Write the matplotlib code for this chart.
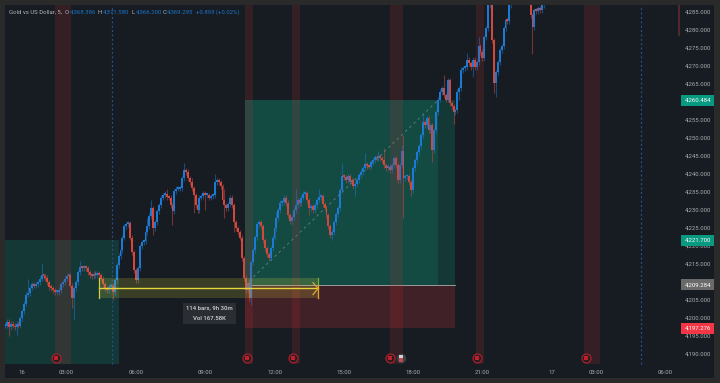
import matplotlib
matplotlib.use('Agg')
import matplotlib.pyplot as plt
from matplotlib.patches import Rectangle

plt.rcParams['font.family'] = ['Roboto', 'DejaVu Sans']

# closes, one per 5 min bar
closes = [
    4198, 4199, 4197.5, 4198.5, 4198, 4197.5, 4198.5, 4198, 4200, 4202,
    4204, 4206.5, 4207, 4208.5, 4209.5, 4209, 4209.5, 4210, 4211, 4212,
    4211.7, 4211.2, 4210, 4208.7, 4208.4, 4207.8, 4207.3, 4207.3, 4207.8, 4209.5,
    4210, 4211, 4211.7, 4212, 4209, 4205.6, 4208.4, 4210, 4212.8, 4214.2,
    4213.9, 4214.2, 4213.9, 4212.8, 4212, 4211.7, 4212.3, 4212, 4212.5, 4212,
    4211, 4209.5, 4208.4, 4207.8, 4208.7, 4209, 4207.3, 4210.6, 4214.7, 4217.3,
    4218.9, 4222.3, 4225.6, 4226.1, 4226.4, 4222.3, 4218.4, 4213.4, 4210.6, 4213.9,
    4220, 4221.1, 4221.4, 4223.9, 4225.6, 4228.4, 4230.6, 4225, 4226.7, 4229.7,
    4231.4, 4233.4, 4234.2, 4234.5, 4233.6, 4233.4, 4231.4, 4229.7, 4235.3, 4235.9,
    4235.9, 4236.1, 4238.9, 4241.1, 4240.6, 4238.9, 4237.8, 4236.1, 4234.2, 4231.4,
    4230, 4233.4, 4233.9, 4234.7, 4234.2, 4234.2, 4233.4, 4233.9, 4234.2, 4237.8,
    4238.3, 4237.8, 4236.7, 4232.8, 4231.4, 4230.6, 4231.7, 4233.4, 4231.4, 4226.7,
    4225, 4223.9, 4222.3, 4216.7, 4211.2, 4207.8, 4209.8, 4205.6, 4215.6, 4218.9,
    4222.5, 4226.1, 4226.7, 4225.6, 4221.7, 4219.5, 4217.8, 4216.7, 4219.5, 4222.3,
    4225, 4227.8, 4230, 4232, 4232.2, 4233.4, 4232, 4228.6, 4227, 4228.1,
    4230, 4231.4, 4232.8, 4232, 4233.4, 4234.5, 4234.7, 4232.8, 4230.6, 4231.1,
    4230, 4231.4, 4232.8, 4233.6, 4233.9, 4231.7, 4230.6, 4228.6, 4225.6, 4223.1,
    4223.9, 4226.7, 4228.9, 4230.6, 4235.6, 4239.4, 4239.2, 4238.3, 4239.4, 4237.8,
    4238.3, 4236.7, 4237.2, 4238.3, 4239.7, 4240.6, 4241.7, 4242.8, 4242.2, 4242,
    4243.3, 4243.9, 4244.7, 4244.4, 4245, 4244.4, 4243.9, 4242.5, 4241.7, 4242,
    4241.1, 4242.5, 4244.4, 4242.5, 4238.3, 4242.5, 4246.4, 4238.9, 4239.4, 4239.4,
    4237.8, 4235.6, 4241.7, 4243.9, 4246.1, 4247.8, 4250.8, 4254.4, 4253.6, 4255.5,
    4252.2, 4253.6, 4246.7, 4252.2, 4257.2, 4260.6, 4262.8, 4263.9, 4261.9, 4260.6,
    4266.1, 4259.7, 4258.9, 4257.2, 4257.8, 4262.8, 4263.9, 4268.9, 4269.4, 4269.7,
    4271.7, 4270.8, 4269.7, 4271.7, 4269.7, 4271.1, 4275.5, 4273.9, 4272.2, 4278,
    4280.5, 4286.9, 4291, 4277.2, 4265.3, 4268.3, 4271.1, 4274.4, 4275.5, 4280.5,
    4282.7, 4282.5, 4286.9, 4290, 4292, 4293, 4291.5, 4294, 4295, 4293,
    4294, 4296, 4294, 4284.1, 4280.8, 4285.5, 4285.2, 4286.1, 4285.5, 4286.9,
    4288,
]

# the longer wicks, bar number and price
high_bars = [12, 19, 39, 74, 76, 84, 93, 97, 109, 114, 141, 151, 163, 175, 187, 194, 197, 206, 207, 217, 228, 240, 246]
high_prices = [4211, 4215, 4216, 4227.8, 4232.8, 4236, 4243, 4239, 4240, 4236, 4229.5, 4236, 4236, 4243, 4245.8, 4246.5, 4247.2, 4248, 4250.8, 4257, 4267.5, 4273.5, 4278]
low_bars = [2, 6, 35, 36, 56, 77, 87, 98, 104, 114, 119, 128, 149, 158, 170, 182, 207, 211, 222, 233, 236, 243, 254, 255, 274]
low_prices = [4195, 4195.3, 4203, 4199.5, 4205, 4223, 4225.9, 4229.2, 4230, 4227.8, 4224, 4203.7, 4225.9, 4228.6, 4221.7, 4234, 4227.8, 4233.9, 4243.5, 4254, 4260.6, 4267, 4262.5, 4261.4, 4273.3]

# 4,260 and 4,210 sit under the price tags in the picture
price_ticks = [4190, 4195, 4200, 4205, 4215, 4220, 4225, 4230, 4235, 4240, 4245, 4250,
               4255, 4265, 4270, 4275, 4280, 4285]
time_labels = ['16', '03:00', '06:00', '09:00', '12:00', '15:00', '18:00', '21:00', '17', '03:00', '06:00']
time_bars = [9, 32, 68, 104, 140, 176, 212, 248, 284, 307, 343]

band_starts = [26, 124.7, 149, 200, 244.7, 300.8]
band_ends = [34.3, 128.8, 153.2, 206.8, 248.8, 309]
icon_bars = [26.5, 125.7, 149.7, 199.8, 245.2, 301.7]
session_lines = [55.6, 330.4]

entry = 4209.284
target = 4260.484
stop = 4197.276
first_target = 4221.7

bg = '#161c22'
fig = plt.figure(figsize=(7.2, 3.83), dpi=100, facecolor='#2a2a2a')
ax = fig.add_axes([5 / 720, 5 / 383, 709 / 720, 373 / 383], facecolor=bg)
ax.set_xlim(0, 368.3)
ax.set_ylim(4183.45, 4286.94)
ax.set_xticks([])
ax.set_yticks([])
for s in ax.spines.values():
    s.set_visible(False)

chart_bottom = 4187.3
chart_top = 4287

# position boxes
ax.add_patch(Rectangle((0, chart_bottom), 59.2, first_target - chart_bottom, fc='#0fa080', alpha=0.22, lw=0, zorder=1))
ax.add_patch(Rectangle((124.7, entry), 109.1, target - entry, fc='#0fa080', alpha=0.22, lw=0, zorder=1))
ax.add_patch(Rectangle((124.7, entry), 100.2, target - entry, fc='#0fa080', alpha=0.19, lw=0, zorder=1))
ax.add_patch(Rectangle((124.7, stop), 109.1, entry - stop, fc='#f23645', alpha=0.2, lw=0, zorder=1))
ax.plot([124.7, 233.8], [entry, entry], color='#9a9a9a', lw=0.7, zorder=2)
ax.plot([124.7, 224.9], [entry, target], color='#8a9a96', lw=0.6, ls=(0, (3, 4)), alpha=0.7, zorder=2)

for x in session_lines:
    ax.plot([x, x], [chart_bottom, chart_top], color='#2a4f8f', lw=0.9, ls=(0, (1.5, 2)), zorder=2)

# candles
opens = [closes[0]] + closes[:-1]
for i, (o, c) in enumerate(zip(opens, closes)):
    col = '#1c7ad4' if c >= o else '#d2483f'
    hi = max(o, c) + 0.7
    lo = min(o, c) - 0.7
    if i in high_bars:
        hi = high_prices[high_bars.index(i)]
    if i in low_bars:
        lo = low_prices[low_bars.index(i)]
    ax.plot([i, i], [lo, hi], color=col, lw=0.8, alpha=0.5, zorder=3, solid_capstyle='butt')
    ax.bar(i, max(abs(c - o), 0.5), bottom=min(o, c), width=1.0, color=col, lw=0, zorder=4)

# red session bands
for a, b in zip(band_starts, band_ends):
    ax.add_patch(Rectangle((a, chart_bottom), b - a, chart_top - chart_bottom, fc='#c83232', alpha=0.17, lw=0, zorder=5))
ax.plot([350, 350], [4278.6, chart_top], color='#5a2a2e', lw=1.3, zorder=5)

# measure tool
ax.add_patch(Rectangle((48.8, 4205.6), 113.8, 5.6, fc='#e6dc3c', alpha=0.18, lw=0, zorder=6))
ax.plot([48.8, 162.4], [4208.3, 4208.3], color='#e6d63c', lw=1.0, zorder=7)
ax.plot([48.8, 48.8], [4205.6, 4211.2], color='#d8cc3a', lw=0.9, zorder=7)
ax.plot([162.6, 162.6], [entry, 4211.2], color='#7fae3c', lw=0.9, zorder=7)
ax.plot([162.6, 162.6], [4205.6, entry], color='#e0a830', lw=0.9, zorder=7)
ax.plot([160, 162.6, 160], [4209.9, 4208.3, 4206.6], color='#e0a830', lw=0.9, zorder=7)
ax.add_patch(Rectangle((92.5, 4198.4), 27.5, 5.9, fc='#2a2e33', lw=0, zorder=8))
ax.text(106.2, 4202.9, '114 bars, 9h 30m', color='#d4d6d8', fontsize=4.3, fontweight='medium', ha='center', va='center', zorder=9)
ax.text(106.2, 4199.9, 'Vol 167.58K', color='#d4d6d8', fontsize=4.3, fontweight='medium', ha='center', va='center', zorder=9)

# event icons
icon_y = [4189] * len(icon_bars)
ax.scatter(icon_bars, icon_y, s=42, facecolor='#2a1c20', edgecolor='#b5202c', lw=0.8, zorder=8)
ax.scatter(icon_bars, icon_y, s=8, marker='s', color='#c0202c', lw=0, zorder=9)
ax.scatter([205.5], [4189], s=48, color='#3b3f44', lw=0, zorder=8)
ax.scatter([205.5], [4189.4], s=7, marker='s', color='#d8d0d0', lw=0, zorder=9)
ax.scatter([205.5], [4188.5], s=6, marker='s', color='#c04a50', lw=0, zorder=9)

# price axis
for p in price_ticks:
    ax.text(366.8, p, f'{p:,.3f}', color='#a8acb0', fontsize=4.3, ha='right', va='center', zorder=9)
tags = [target, first_target, entry, stop]
tag_colors = ['#089981', '#089981', '#6a6a6a', '#f23645']
for p, col in zip(tags, tag_colors):
    ax.text(359.8, p, f'{p:,.3f}', color='white', fontsize=4.3, ha='center', va='center', zorder=11,
            bbox=dict(boxstyle='square,pad=0.5', fc=col, lw=0))

for x, t in zip(time_bars, time_labels):
    ax.text(x, 4185.1, t, color='#a8acb0', fontsize=4.3, ha='center', va='center', zorder=9)

# header
header = [(9, 'Gold vs US Dollar, 5,', '#b4b6ba'), (65, 'O', '#b4b6ba'), (70, '4,368.386', '#1c74c8'),
          (98, 'H', '#b4b6ba'), (103, '4,371.580', '#1c74c8'), (131, 'L', '#b4b6ba'),
          (136, '4,366.200', '#1c74c8'), (163, 'C', '#b4b6ba'), (167, '4,369.295', '#1c74c8'),
          (196, '+0.893 (+0.02%)', '#1c74c8')]
for x, t, col in header:
    fig.text(x / 720, 1 - 12 / 383, t, color=col, fontsize=4.3, ha='left', va='center')

fig.savefig('out.png', dpi=100, facecolor=fig.get_facecolor())
